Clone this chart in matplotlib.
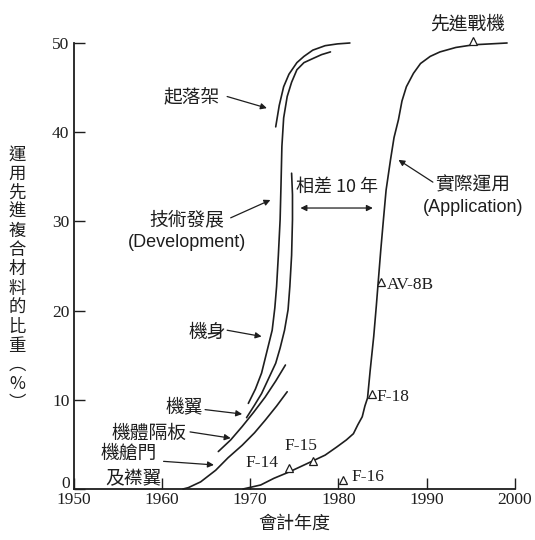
import matplotlib
matplotlib.use("Agg")
import matplotlib.pyplot as plt

CJK = ["Noto Sans CJK TC", "DejaVu Sans"]
SERIF = ["Liberation Serif", "DejaVu Serif"]
SANS = ["Liberation Sans", "DejaVu Sans"]
INK = "#1e1e1e"

# --- curve data (year, percent) ---
# development curves, one per component
doors_x = [1962.4, 1963.0, 1964.4, 1966.1, 1967.5, 1969.1, 1970.5, 1971.7, 1973.0, 1974.2]
doors_y = [0.0, 0.15, 0.8, 2.1, 3.5, 4.9, 6.3, 7.7, 9.3, 10.9]

bulkhead_x = [1966.4, 1967.8, 1969.1, 1970.4, 1971.7, 1972.9, 1974.0]
bulkhead_y = [4.2, 5.5, 7.0, 8.6, 10.3, 12.1, 13.9]

wing_x = [1969.6, 1970.5, 1971.3, 1972.1, 1972.9, 1973.4, 1973.9, 1974.3, 1974.5,
          1974.7, 1974.8, 1974.8, 1974.7]
wing_y = [8.0, 9.4, 10.7, 12.4, 14.1, 15.8, 17.8, 20.1, 22.7, 26.2, 30.2, 33.0, 35.4]

fuselage_x = [1969.8, 1970.6, 1971.3, 1971.9, 1972.5, 1972.8, 1973.0, 1973.2, 1973.4,
              1973.5, 1973.6, 1973.8, 1974.2, 1974.7, 1975.3, 1976.1, 1977.2, 1978.1, 1979.1]
fuselage_y = [9.6, 11.2, 13.0, 15.4, 17.8, 20.3, 22.7, 26.2, 30.2, 34.1, 38.4, 41.6,
              44.0, 45.6, 47.0, 47.8, 48.3, 48.7, 49.0]

gear_x = [1972.9, 1973.3, 1973.8, 1974.4, 1975.3, 1976.1, 1977.1, 1978.5, 1979.9, 1981.3]
gear_y = [40.6, 43.0, 45.1, 46.5, 47.8, 48.5, 49.2, 49.7, 49.9, 50.0]

# application curve
app_x = [1969.2, 1971.2, 1972.7, 1974.4, 1975.7, 1977.0, 1978.5, 1979.8, 1980.9, 1981.7,
         1982.2, 1982.7, 1983.0, 1983.3, 1983.6, 1984.0, 1984.3, 1984.5, 1984.8, 1985.1,
         1985.4, 1985.9, 1986.3, 1986.8, 1987.2, 1987.7, 1988.5, 1989.3, 1990.4, 1991.5,
         1993.3, 1995.3, 1997.2, 1999.1]
app_y = [0.0, 0.45, 1.2, 1.9, 2.5, 3.1, 3.8, 4.7, 5.5, 6.2, 7.2, 8.1, 9.3, 10.2, 13.3,
         17.1, 20.6, 23.1, 26.8, 30.2, 33.5, 36.9, 39.4, 41.4, 43.5, 45.1, 46.6, 47.7,
         48.5, 49.0, 49.5, 49.8, 49.9, 50.0]

# aircraft markers
planes = ["F-14", "F-15", "F-16", "F-18", "AV-8B", "先進戰機"]
plane_x = [1974.4, 1977.1, 1980.5, 1983.8, 1984.8, 1995.3]
plane_y = [2.3, 3.1, 1.0, 10.6, 23.2, 50.2]

fig = plt.figure(figsize=(5.35, 5.40), dpi=100)
ax = fig.add_axes([73.5 / 535, 1 - 489 / 540, 441.5 / 535, 446 / 540])
ax.set_xlim(1950, 2000)
ax.set_ylim(0, 50)

for xs, ys in [(doors_x, doors_y), (bulkhead_x, bulkhead_y), (wing_x, wing_y),
               (fuselage_x, fuselage_y), (gear_x, gear_y), (app_x, app_y)]:
    ax.plot(xs, ys, color=INK, lw=1.2, solid_capstyle="round", clip_on=False)

ax.plot(plane_x, plane_y, ls="none", marker="^", ms=6, mfc="white", mec=INK, mew=0.9,
        clip_on=False, zorder=3)

# spines / ticks
for side in ("top", "right"):
    ax.spines[side].set_visible(False)
for side in ("left", "bottom"):
    ax.spines[side].set_linewidth(1.3)
    ax.spines[side].set_color(INK)
yticks = [0, 10, 20, 30, 40, 50]
ax.set_xticks([1950, 1960, 1970, 1980, 1990, 2000])
ax.set_yticks(yticks)
# the "0" is drawn by hand a little higher so it clears "1950"
ax.set_yticklabels([""] + [str(v) for v in yticks[1:]])
ax.tick_params(direction="in", length=8, width=1.0, color=INK, labelcolor=INK)
ax.tick_params(axis="x", pad=2)
ax.tick_params(axis="y", pad=3)
for lab in ax.get_xticklabels() + ax.get_yticklabels():
    lab.set_fontfamily(SERIF)
    lab.set_fontsize(12.5)
ax.annotate("0", xy=(0, 0), xycoords=("axes fraction", "data"), xytext=(-2.5, 3.5),
            textcoords="offset points", ha="right", va="center",
            family=SERIF, fontsize=12.5, color=INK, annotation_clip=False)

ax.set_xlabel("會計年度", family=CJK, fontsize=13, color=INK, labelpad=5)
ylab = "運用先進複合材料的比重︵%︶"
fig.text(17 / 535, 1 - 279 / 540, "\n".join(ylab), family=CJK, fontsize=12.5,
         color=INK, ha="center", va="center", linespacing=1.08)

# --- labels and arrows ---
def arrow(tail, tip, style="-|>"):
    ax.annotate("", xy=tip, xytext=tail,
                arrowprops=dict(arrowstyle=style, color=INK, lw=0.9,
                                mutation_scale=9, shrinkA=0, shrinkB=0))

def cjk(x, y, s, **kw):
    ax.text(x, y, s, family=CJK, fontsize=13.5, color=INK, ha="center", va="center", **kw)

cjk(1963.4, 43.8, "起落架")
arrow((1967.4, 44.0), (1971.9, 42.7))

cjk(1962.8, 30.2, "技術發展")
ax.text(1962.8, 27.6, "(Development)", family=SANS, fontsize=13, color=INK,
        ha="center", va="center")
arrow((1967.8, 30.4), (1972.3, 32.4))

ax.text(1975.2, 33.9, "相差 10 年", family=CJK, fontsize=13, color=INK,
        ha="left", va="center")
arrow((1975.7, 31.5), (1983.9, 31.5), style="<|-|>")

cjk(1995.2, 34.1, "實際運用")
ax.text(1995.3, 31.6, "(Application)", family=SANS, fontsize=13, color=INK,
        ha="center", va="center")
arrow((1990.7, 34.4), (1986.8, 36.9))

cjk(1965.1, 17.6, "機身")
arrow((1967.4, 17.8), (1971.3, 17.1))

cjk(1962.5, 9.2, "機翼")
arrow((1964.9, 8.9), (1969.1, 8.4))

cjk(1958.5, 6.2, "機體隔板")
arrow((1963.2, 6.4), (1967.8, 5.7))

cjk(1956.2, 4.0, "機艙門")
cjk(1956.8, 1.2, "及襟翼")
arrow((1960.2, 3.1), (1965.9, 2.7))

# aircraft names
ax.text(1973.2, 2.9, planes[0], family=SERIF, fontsize=12.5, color=INK, ha="right", va="center")
ax.text(1975.8, 4.8, planes[1], family=SERIF, fontsize=12.5, color=INK, ha="center", va="center")
ax.text(1981.5, 1.4, planes[2], family=SERIF, fontsize=12.5, color=INK, ha="left", va="center")
ax.text(1984.3, 10.35, planes[3], family=SERIF, fontsize=12.5, color=INK, ha="left", va="center")
ax.text(1985.5, 22.9, planes[4], family=SERIF, fontsize=12.5, color=INK, ha="left", va="center")
ax.text(1994.6, 52.1, planes[5], family=CJK, fontsize=13.5, color=INK, ha="center",
        va="center", clip_on=False)

fig.savefig("out.png", dpi=100)
